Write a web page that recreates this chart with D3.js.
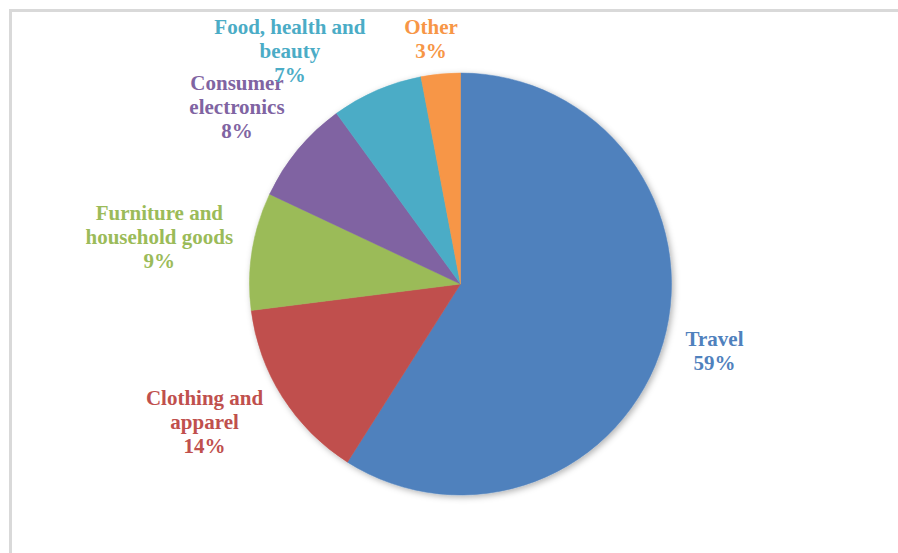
<!DOCTYPE html>
<html>
<head>
<meta charset="utf-8">
<script src="https://cdn.jsdelivr.net/npm/d3@7/dist/d3.min.js"></script>
<style>
  html, body { margin: 0; padding: 0; background: #fff; }
  svg { display: block; }
</style>
</head>
<body>
<div id="chart"></div>
<script>
// data
const categories = ["Travel", "Clothing and apparel", "Furniture and household goods",
  "Consumer electronics", "Food, health and beauty", "Other"];
const shares = [59, 14, 9, 8, 7, 3];
const labelLines = [
  ["Travel"],
  ["Clothing and", "apparel"],
  ["Furniture and", "household goods"],
  ["Consumer", "electronics"],
  ["Food, health and", "beauty"],
  ["Other"]
];
const colors = ["#4f81bd", "#c0504d", "#9bbb59", "#8064a2", "#4bacc6", "#f79646"];

// small hand nudges so labels sit like the original
const nudge = {
  "Travel": [12, 0],
  "Clothing and apparel": [-18, 1],
  "Furniture and household goods": [-8, -4],
  "Consumer electronics": [-15, -10],
  "Food, health and beauty": [-52, 7],
  "Other": [-6, 3]
};

function pageLoaded() {
  const w = 898;
  const h = 553;
  const cx = 460.5, cy = 284, radius = 211;
  const fontSize = 21, lineH = 24;

  const svg = d3.select("#chart").append("svg")
    .attr("width", w).attr("height", h);

  const defs = svg.append("defs");
  defs.append("filter").attr("id", "shadow")
    .attr("x", "-10%").attr("y", "-10%").attr("width", "130%").attr("height", "130%")
    .append("feDropShadow")
    .attr("dx", 2).attr("dy", 2).attr("stdDeviation", 3)
    .attr("flood-color", "#000").attr("flood-opacity", 0.3);

  // outer frame
  svg.append("rect")
    .attr("x", 10.5).attr("y", 10.5)
    .attr("width", w + 20).attr("height", h + 20)
    .attr("fill", "none").attr("stroke", "#d9d9d9").attr("stroke-width", 3);

  const data = categories.map((c, i) => ({ name: c, value: shares[i], lines: labelLines[i], color: colors[i] }));

  const pie = d3.pie().value(d => d.value).sort(null);
  const arcs = pie(data);
  const arc = d3.arc().innerRadius(0).outerRadius(radius);

  const g = svg.append("g").attr("transform", `translate(${cx},${cy})`);

  g.append("g").attr("filter", "url(#shadow)")
    .selectAll("path")
    .data(arcs)
    .enter()
    .append("path")
    .attr("d", arc)
    .attr("fill", d => d.data.color)
    .attr("stroke", d => d.data.color)
    .attr("stroke-width", 0.5);

  // labels, outside end
  const labels = g.selectAll("text.lbl")
    .data(arcs)
    .enter()
    .append("text")
    .attr("class", "lbl")
    .attr("text-anchor", "middle")
    .attr("font-family", "'Liberation Serif', 'Times New Roman', serif")
    .attr("font-weight", "bold")
    .attr("font-size", fontSize + "px")
    .attr("fill", d => d.data.color);

  labels.each(function (d) {
    const t = d3.select(this);
    const lines = d.data.lines.concat([d.data.value + "%"]);
    lines.forEach((s, i) => {
      t.append("tspan").attr("x", 0).attr("y", i * lineH).text(s);
    });
    const bb = this.getBBox();
    const bw = bb.width;
    const bh = lines.length * lineH;
    const mid = (d.startAngle + d.endAngle) / 2;
    const ar = radius + 12;
    const ax = ar * Math.sin(mid);
    const ay = -ar * Math.cos(mid);
    const n = nudge[d.data.name];
    const lx = ax + Math.sin(mid) * bw / 2 + n[0];
    const ly = ay - Math.cos(mid) * bh / 2 + n[1];
    // first baseline so the block is vertically centred on ly
    const top = ly - bh / 2 + fontSize * 0.8;
    t.selectAll("tspan").attr("x", lx).attr("y", (s, i) => top + i * lineH);
  });
}

window.addEventListener("load", pageLoaded);
</script>
</body>
</html>
